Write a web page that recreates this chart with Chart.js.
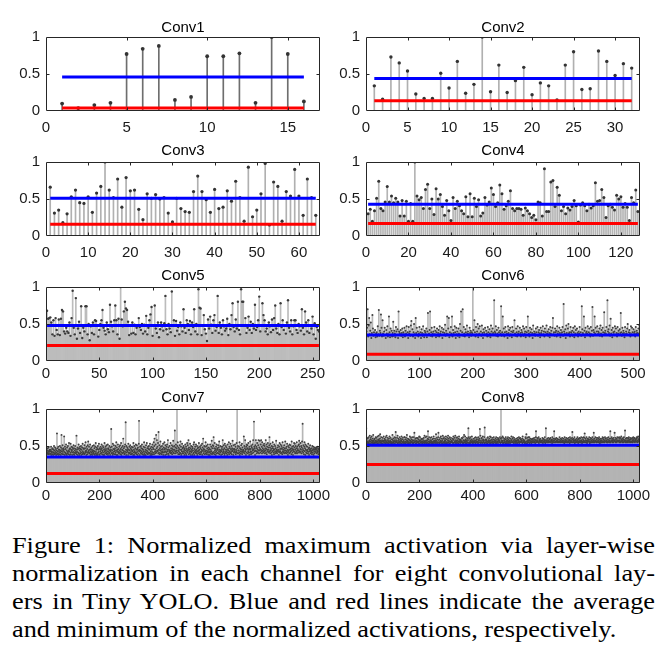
<!DOCTYPE html>
<html><head><meta charset="utf-8">
<script src="https://cdn.jsdelivr.net/npm/chart.js@4.4.1/dist/chart.umd.min.js"></script>
<style>
html,body{margin:0;padding:0;background:#fff}
body{width:668px;height:661px;position:relative;overflow:hidden}
.panel{position:absolute}
#cap{position:absolute;left:12px;top:531px;width:587px;transform:scaleX(1.0954);transform-origin:0 0;
 font-family:"Liberation Serif","Times New Roman",serif;font-size:24px;line-height:28px;color:#000}
#cap div{text-align:justify;text-align-last:justify;white-space:nowrap}
#cap div.last{text-align:left;text-align-last:left}
</style></head><body>
<div id="cap">
<div>Figure 1: Normalized maximum activation via layer-wise</div>
<div>normalization in each channel for eight convolutional lay-</div>
<div>ers in Tiny YOLO. Blue and red lines indicate the average</div>
<div class="last">and minimum of the normalized activations, respectively.</div>
</div>
<script>
// ---------- data ----------
const panelTitles = ['Conv1','Conv2','Conv3','Conv4','Conv5','Conv6','Conv7','Conv8'];
const xTickValues = [
  [0,5,10,15],[0,5,10,15,20,25,30],[0,10,20,30,40,50,60],[0,20,40,60,80,100,120],
  [0,50,100,150,200,250],[0,100,200,300,400,500],[0,200,400,600,800,1000],[0,200,400,600,800,1000]
];
const yTickValues = [0,0.5,1];
const averages = [0.46,0.44,0.51,0.43,0.48,0.35,0.35,0.51];
const minimums = [0.04,0.14,0.16,0.17,0.21,0.09,0.13,0.25];

const conv1 = [.10,.04,.08,.11,.77,.84,.88,.15,.19,.74,.74,.78,.11,1.0,.77,.13];
const conv2 = [.34,.16,.73,.65,.54,.23,.17,.17,.51,.31,.67,.24,.36,1.0,.26,.62,
.25,.41,.59,.22,.38,.34,.15,.62,.80,.29,.30,.81,.67,.48,.64,.58];
const conv3 = [.66,.31,.35,.18,.30,.53,.62,.45,.44,.53,.32,.58,.67,1.0,.62,.52,
.77,.39,.79,.61,.62,.36,.22,.57,.51,.56,.50,.52,.31,.19,.51,.37,
.33,.32,.60,.81,.60,.49,.32,.63,.37,.39,.61,.47,.74,.52,.20,.93,
.26,.35,.57,.98,.15,.73,.67,.20,.60,.54,.90,.54,.28,.77,.52,.28];
const conv4 = [.30,.36,.20,.34,.51,.74,.37,.34,.46,.67,.46,.54,.45,.51,.46,.27,
.48,.27,.47,.20,.44,.20,1.0,.54,.49,.52,.37,.63,.70,.37,.50,.29,
.64,.50,.56,.40,.28,.48,.34,.21,.52,.37,.47,.41,.34,.30,.53,.26,
.57,.26,.51,.40,.49,.27,.31,.52,.42,.46,.65,.56,.40,.45,.69,.57,
.36,.41,.47,.61,.37,.34,.37,.37,.36,.28,.38,.34,.30,.25,.28,.22,
.46,.45,.27,.91,.33,.33,.73,.75,.40,.66,.55,.34,.40,.30,.38,.35,
.40,.48,.41,.19,.42,.45,.41,.34,.43,.38,.41,.72,.47,.48,.63,.52,
.25,.41,.43,.39,.35,.55,.50,.53,.39,.44,.39,.21,.52,.45,.62,.33];
const conv5 = [.68,.57,.58,.59,.52,.36,.55,.34,.58,.42,.36,.56,.35,.57,.69,.67,
.40,.37,.45,.40,.38,.52,.34,.58,.95,.45,.36,.85,.30,.44,.53,.38,
.74,.31,.45,.40,.74,.74,.36,.50,.28,.47,.38,.52,.36,.55,.54,.48,
.33,.42,.50,.55,.69,.45,.41,.36,.52,.43,.39,.76,.53,.47,.40,.55,
.75,.55,.36,.57,.30,1.0,.56,.47,.67,.80,.71,.69,.53,.35,.48,.37,
.52,.38,.49,.36,.45,.48,.58,.46,.42,.50,.37,.49,.40,.61,.36,.45,
.55,.63,.73,.34,.48,.75,.44,.38,.52,.32,.43,.52,.47,.41,.51,.88,
.43,.36,.50,.44,.39,.94,.48,.55,.34,.54,.41,.46,.36,.52,.47,.40,
.70,.45,.38,.55,.50,.42,.54,.36,.52,.46,.70,.40,.50,.36,.97,.72,
.71,.35,.48,.62,.43,.37,.27,.56,.44,.60,.49,.38,.55,.62,.41,.46,
.88,.38,.52,.45,.36,.55,.47,.41,.44,.57,.35,.50,.43,.62,.78,.46,
.40,.56,.44,.80,.42,.36,.97,.80,.80,.48,.58,.38,.45,.60,.42,.53,
.38,.50,.44,.76,.42,.46,.55,.87,.40,.48,.78,.62,.55,.40,.44,.36,
.52,.47,.39,.56,.42,.58,.75,.44,.38,.50,.36,.78,.46,.55,.42,.48,
.37,.52,.82,.45,.40,.55,.36,.47,.55,.55,.42,.38,.50,.47,.41,.70,
.45,.36,.67,.52,.40,.55,.38,.48,.44,.60,.36,.51,.30,.46,.42,.40];
const conv6 = [.40,.45,.70,.33,.48,.58,.36,.41,.52,.31,.38,.62,.44,.34,.39,.35,
.42,.32,.37,.39,.33,.47,.36,.69,.34,.41,.38,.63,.45,.33,.55,.37,
.34,.40,.45,.35,.31,.42,.37,.47,.33,.36,.60,.39,.32,.44,.35,.41,
.33,.38,.53,.34,.41,.37,.32,.46,.40,.35,.43,.31,.67,.40,.38,.36,
.42,.34,.38,.44,.32,.39,.36,.45,.33,.41,.37,.47,.35,.39,.31,.46,
.37,.40,.34,.48,.54,.35,.43,.33,.39,.50,.36,.31,.58,.38,.45,.35,
.40,.33,.37,.46,.35,.39,.31,.43,.38,.34,.47,.36,.32,.41,.39,.36,
.44,.32,.40,.65,.35,.37,.42,.67,.34,.39,.45,.33,.37,.40,.35,.46,
.36,.41,.32,.39,.44,.34,.38,.42,.33,.47,.37,.40,.35,.45,.31,.39,
.43,.35,.38,.49,.34,.41,.37,.60,.36,.44,.58,.32,.39,.35,.46,.37,
.60,.33,.42,.38,.35,.47,.39,.31,.45,.36,.40,.34,.44,.37,.32,.50,
.41,.67,.35,.39,.70,.34,.46,.37,.33,.43,.39,.35,.48,.37,.40,.36,
.32,.45,.38,.41,.34,.39,.37,1.0,.42,.35,.55,.39,.33,.46,.36,.40,
.50,.32,.44,.37,.47,.35,.40,.34,.48,.38,.31,.43,.39,.36,.45,.35,
.41,.37,.33,.46,.39,.34,.43,.37,.32,.48,.40,.36,.44,.38,.35,.82,
.40,.38,.47,.34,.42,.37,.33,.45,.39,.35,.41,.37,.74,.34,.39,.60,
.36,.44,.33,.39,.46,.35,.40,.37,.31,.47,.38,.42,.34,.45,.36,.40,
.32,.46,.39,.41,.35,.55,.37,.34,.44,.39,.33,.47,.37,.40,.35,.45,
.38,.33,.42,.39,.36,.47,.34,.44,.37,.40,.32,.46,.39,.35,.60,.41,
.37,.33,.45,.39,.35,.43,.38,.31,.48,.36,.40,.37,.34,.44,.39,.35,
.46,.34,.39,.42,.37,.32,.45,.38,.41,.35,.47,.36,.40,.33,.44,.39,
.35,.48,.37,.40,.34,.43,.38,.32,.46,.37,.41,.35,.45,.58,.36,.39,
.34,.44,.39,.41,.33,.47,.37,.40,.35,.45,.38,.32,.42,.36,.39,.46,
.34,.77,.40,.37,.43,.31,.48,.38,.35,.44,.50,.37,.39,.33,.46,.39,
.36,.41,.34,.45,.39,.32,.47,.37,.42,.35,.44,.38,.33,.40,.37,.46,
.35,.39,.34,.74,.43,.38,.36,.60,.41,.32,.45,.38,.40,.37,.47,.35,
.39,.44,.37,.33,.46,.36,.41,.73,.34,.42,.39,.60,.37,.45,.35,.40,
.47,.36,.40,.38,.44,.34,.48,.37,.42,.33,.45,.39,.35,.66,.38,.41,
.37,.46,.35,.82,.40,.43,.38,.48,.34,.57,.37,.42,.32,.45,.39,.36,
.40,.47,.35,.44,.38,.33,.46,.37,.41,.35,.43,.38,.65,.39,.34,.45,
.37,.41,.38,.32,.46,.36,.40,.37,.44,.50,.35,.39,.42,.38,.33,.47,
.36,.45,.39,.35,.43,.38,.40,.33,.46,.37,.41,.38,.35,.44,.37,.48];
const conv7 = [.42,.46,.39,.44,.40,.47,.41,.43,.39,.48,.40,.44,.42,.45,.39,.43,
.45,.40,.49,.38,.43,.41,.46,.39,.47,.42,.38,.45,.41,.50,.40,.44,
.39,.48,.42,.40,.46,.38,.44,.41,.67,.39,.47,.43,.40,.49,.38,.45,
.42,.45,.39,.50,.41,.44,.38,.48,.43,.65,.40,.46,.39,.51,.42,.44,
.47,.39,.45,.63,.42,.38,.49,.41,.46,.40,.52,.39,.44,.38,.48,.42,
.40,.50,.42,.44,.39,.54,.43,.46,.38,.47,.41,.53,.39,.45,.42,.49,
.44,.38,.48,.41,.46,.42,.51,.39,.47,.38,.44,.41,.50,.40,.46,.43,
.41,.64,.39,.45,.42,.48,.38,.46,.41,.52,.40,.47,.38,.44,.49,.40,
.46,.42,.50,.38,.45,.41,.48,.39,.53,.43,.40,.47,.41,.46,.39,.51,
.40,.47,.43,.55,.41,.44,.38,.49,.42,.46,.39,.51,.41,.56,.44,.42,
.49,.40,.45,.41,.52,.38,.46,.43,.39,.48,.41,.45,.38,.50,.43,.40,
.44,.41,.51,.39,.47,.43,.38,.49,.40,.54,.42,.45,.38,.48,.40,.46,
.38,.50,.41,.45,.42,.53,.39,.47,.38,.46,.43,.49,.40,.45,.41,.52,
.47,.39,.44,.42,.50,.38,.48,.41,.45,.38,.54,.43,.46,.40,.49,.44,
.41,.51,.39,.46,.43,.40,.52,.38,.47,.42,.45,.40,.50,.41,.44,.38,
.48,.43,.45,.73,.40,.49,.41,.44,.38,.53,.40,.46,.42,.51,.39,.45,
.43,.47,.39,.50,.41,.44,.55,.38,.48,.43,.45,.38,.52,.41,.46,.42,
.40,.49,.44,.41,.51,.39,.46,.43,.54,.38,.48,.41,.45,.40,.50,.44,
.60,.41,.47,.43,.39,.49,.40,.52,.42,.82,.45,.38,.50,.41,.44,.48,
.43,.46,.38,.53,.41,.45,.40,.49,.44,.41,.51,.39,.47,.42,.45,.39,
.49,.40,.44,.43,.48,.38,.54,.41,.45,.38,.50,.43,.41,.47,.40,.52,
.41,.45,.39,.51,.42,.46,.38,.48,.44,.40,.53,.84,.43,.45,.38,.49,
.44,.41,.50,.40,.47,.43,.52,.39,.46,.41,.45,.38,.49,.43,.55,.40,
.38,.48,.42,.45,.38,.51,.41,.44,.54,.40,.47,.43,.39,.49,.41,.46,
.50,.40,.45,.41,.53,.38,.47,.43,.40,.49,.38,.45,.42,.52,.39,.48,
.41,.46,.55,.39,.50,.60,.42,.45,.40,.52,.43,.65,.41,.47,.58,.44,
.49,.43,.54,.40,.69,.45,.41,.51,.39,.47,.44,.56,.40,.49,.42,.45,
.39,.50,.41,.46,.43,.53,.38,.48,.41,.45,.55,.42,.47,.38,.51,.43,
.46,.41,.49,.39,.52,.43,.45,.58,.40,.48,.38,.45,.43,.50,.41,.44,
.42,.54,.40,.47,.44,.41,.51,.39,.46,.43,.49,.57,.41,.45,.40,.50,
.45,.71,.43,.48,.40,.52,.42,.44,.47,1.0,.50,.41,.55,.44,.39,.48,
.43,.46,.39,.51,.41,.45,.56,.40,.49,.38,.45,.43,.53,.40,.47,.42,
.48,.40,.50,.43,.45,.38,.47,.41,.52,.44,.40,.49,.38,.46,.43,.54,
.41,.51,.44,.46,.58,.39,.48,.42,.45,.40,.53,.43,.47,.38,.50,.41,
.45,.43,.49,.38,.47,.44,.40,.52,.41,.55,.38,.46,.43,.49,.41,.44,
.52,.40,.45,.42,.50,.38,.47,.43,.40,.48,.44,.54,.41,.45,.39,.49,
.42,.47,.39,.51,.41,.45,.43,.53,.38,.48,.44,.60,.40,.46,.42,.50,
.45,.39,.49,.43,.55,.40,.44,.41,.50,.39,.47,.43,.52,.41,.45,.38,
.48,.43,.41,.46,.38,.52,.42,.45,.40,.49,.43,.57,.39,.47,.41,.51,
.40,.50,.62,.42,.47,.39,.54,.44,.41,.46,.38,.49,.43,.52,.40,.45,
.47,.41,.45,.51,.40,.48,.43,.56,.39,.45,.42,.50,.41,.44,.38,.49,
.43,.46,.39,.49,.58,.41,.45,.43,.51,.40,.47,.38,.53,.42,.45,.41,
.50,.40,.48,.43,.45,.38,.52,.41,.46,.44,.41,.55,.39,.49,.43,.47,
.41,.53,.40,.45,.42,.50,.39,.47,.44,.57,.43,.46,.38,.51,.41,.45,
.46,.43,.52,.41,.49,.39,.45,.43,.54,.41,1.0,.47,.40,.50,.44,.40,
.44,.49,.41,.55,.38,.47,.43,.46,.40,.51,.42,.45,.53,.39,.48,.43,
.41,.45,.44,.63,.42,.50,.40,.47,.58,.43,.45,.38,.49,.41,.52,.46,
.51,.40,.47,.43,.54,.41,.45,.38,.49,.46,.41,.56,.43,.46,.39,.50,
.42,.48,.40,.52,.44,.46,.58,.41,.45,.83,.49,.43,.47,.38,.51,.44,
.58,.43,.49,.40,.47,.54,.42,.45,.41,.51,.58,.44,.40,.48,.44,.57,
.46,.41,.52,.45,.58,.43,.49,.40,.55,.44,.47,.42,.51,.41,.45,.53,
.43,.50,.40,.47,.44,.58,.41,.46,.52,.39,.49,.43,.45,.54,.42,.48,
.45,.41,.51,.62,.43,.48,.40,.53,.44,.46,.41,.50,.38,.47,.43,.55,
.49,.44,.41,.46,.39,.52,.45,.42,.50,.40,.47,.43,.57,.41,.45,.43,
.40,.48,.44,.51,.42,.45,.38,.49,.43,.54,.41,.46,.43,.52,.40,.47,
.50,.41,.46,.39,.55,.43,.48,.41,.45,.42,.51,.40,.47,.44,.56,.41,
.44,.47,.40,.49,.43,.53,.41,.45,.38,.50,.44,.42,.48,.40,.52,.45,
.41,.51,.46,.43,.47,.39,.56,.44,.49,.41,.46,.38,.50,.43,.45,.54,
.48,.42,.53,.40,.45,.50,.41,.47,.43,.55,.40,.49,.44,.46,.41,.51,
.44,.52,.57,.43,.49,.41,.46,.54,.42,.45,.50,.40,.48,.56,.43,.80,
.46,.41,.51,.44,.39,.49,.55,.43,.47,.38,.52,.45,.41,.50,.44,.40,
.49,.43,.45,.40,.53,.42,.47,.38,.48,.45,.43,.51,.40,.46,.44,.41,
.43,.47,.39,.50,.44,.41,.45,.49,.38,.46,.43,.40,.48,.45,.42,.47,
.45,.42,.48,.40,.46,.44,.41,.49,.43,.47,.39,.45,.42,.46,.40,.44];
const conv8 = [.74,.58,.55,.61,.54,.56,.60,.53,.55,.62,.54,.57,.56,.64,.53,.59,
.56,.61,.54,.58,.63,.55,.57,.54,.60,.56,.65,.53,.57,.55,.59,.54,
.60,.55,.57,.62,.54,.56,.61,.55,.58,.53,.63,.56,.54,.59,.57,.64,
.54,.58,.56,.60,.66,.55,.57,.53,.62,.56,.54,.58,.53,.61,.56,.57,
.56,.63,.54,.57,.60,.55,.59,.53,.57,.62,.55,.56,.64,.54,.58,.55,
.61,.54,.58,.56,.53,.60,.55,.63,.55,.57,.54,.61,.56,.55,.59,.53,
.55,.59,.65,.54,.57,.55,.60,.56,.53,.62,.56,.58,.54,.61,.69,.56,
.58,.55,.56,.61,.54,.64,.53,.57,.60,.55,.59,.54,.56,.62,.55,.58,
.54,.60,.56,.57,.63,.53,.59,.55,.55,.61,.56,.54,.58,.56,.62,.54,
.62,.55,.59,.53,.56,.61,.55,.58,.65,.54,.57,.56,.60,.53,.55,.59,
.55,.58,.54,.63,.55,.57,.54,.61,.56,.59,.55,.56,.62,.54,.58,.53,
.57,.54,.62,.55,.68,.55,.58,.56,.60,.53,.56,.61,.54,.57,.55,.60,
.55,.61,.56,.54,.59,.56,.63,.53,.57,.62,.55,.58,.55,.54,.60,.56,
.59,.56,.53,.60,.55,.58,.55,.61,.54,.56,.64,.54,.57,.55,.62,.55,
.53,.57,.63,.55,.58,.54,.60,.70,.56,.59,.53,.62,.55,.56,.54,.58,
.61,.55,.57,.54,.62,.56,.54,.59,.55,.53,.60,.56,.63,.54,.57,.55,
.56,.60,.54,.58,.56,.66,.54,.57,.61,.55,.59,.54,.55,.62,.68,.58,
.55,.53,.59,.55,.61,.55,.57,.63,.54,.56,.60,.56,.53,.58,.64,.54,
.60,.55,.55,.62,.54,.58,.56,.60,.57,.54,.63,.53,.59,.55,.55,.61,
.54,.58,.64,.55,.57,.60,.53,.56,.62,.56,.54,.59,.55,.61,.55,.57,
.57,.55,.55,.60,.54,.59,.63,.54,.58,.55,.61,.55,.56,.64,.54,.58,
.56,.61,.54,.57,.62,.55,.58,.54,.60,.56,.53,.63,.56,.59,.55,.57,
.59,.54,.58,.56,.56,.61,.55,.60,.55,.54,.62,.57,.54,.58,.65,.55,
.55,.57,.63,.54,.59,.56,.57,.53,.61,.55,.58,.55,.60,.54,.74,.62,
.58,.55,.54,.60,.55,.62,.54,.57,.56,.59,.55,.63,.56,.54,.58,.55,
.54,.60,.56,.56,.58,.55,.61,.55,.53,.62,.57,.55,.59,.56,.61,.54,
.56,.55,.59,.62,.54,.57,.55,.60,.58,.73,.55,.64,.54,.57,.55,.60,
.61,.55,.54,.58,.63,.55,.59,.56,.57,.54,.62,.75,.54,.58,.55,.59,
.55,.59,.57,.54,.56,.61,.53,.62,.55,.58,.55,.57,.60,.56,.54,.63,
.57,.54,.62,.55,.59,.55,.58,.54,.61,.56,.56,.59,.53,.62,.55,.58,
.55,.58,.56,.60,.54,.57,.62,.55,.54,.59,.56,.55,.61,.54,.57,.60,
.59,.56,.57,.55,.62,.55,.54,.60,1.0,.58,.55,.61,.56,.57,.63,.54,
.55,.61,.54,.58,.55,.57,.60,.55,.59,.53,.62,.56,.54,.58,.56,.60,
.54,.57,.62,.56,.59,.54,.56,.61,.55,.57,.54,.60,.55,.55,.58,.63,
.58,.55,.56,.60,.55,.62,.55,.58,.54,.61,.56,.56,.59,.54,.57,.55,
.56,.60,.55,.57,.53,.58,.61,.55,.59,.55,.57,.62,.54,.56,.60,.55,
.61,.56,.59,.55,.58,.56,.57,.60,.54,.63,.55,.58,.55,.59,.56,.55,
.57,.54,.55,.62,.55,.60,.53,.66,.56,.56,.61,.54,.58,.55,.62,.57,
.55,.59,.62,.54,.57,.55,.60,.55,.58,.56,.54,.59,.56,.60,.55,.58,
.60,.55,.55,.58,.61,.55,.56,.59,.54,.57,.62,.70,.58,.55,.56,.61,
.56,.58,.60,.55,.55,.62,.54,.57,.59,.56,.56,.60,.55,.58,.55,.57,
.55,.57,.55,.61,.58,.54,.60,.56,.56,.59,.55,.57,.62,.55,.54,.58,
.74,.56,.58,.56,.55,.60,.55,.58,.55,.61,.57,.55,.56,.59,.56,.60,
.55,.61,.55,.58,.57,.56,.59,.54,.62,.56,.58,.55,.60,.55,.57,.70,
.58,.55,.60,.55,.59,.56,.55,.61,.57,.56,.60,.58,.55,.56,.59,.55,
.56,.59,.56,.62,.55,.58,.55,.57,.60,.55,.56,.59,.56,.61,.57,.55,
.57,.55,.60,.55,.58,.54,.62,.56,.56,.59,.55,.57,.61,.55,.58,.55,
.60,.55,.55,.58,.56,.61,.55,.59,.57,.54,.62,.55,.58,.56,.60,.56,
.55,.58,.61,.69,.55,.59,.55,.57,.60,.56,.58,.62,.54,.57,.55,.59,
.58,.55,.56,.60,.55,.57,.62,.55,.59,.54,.56,.60,.56,.58,.61,.55,
.55,.60,.55,.57,.62,.56,.58,.54,.56,.61,.55,.59,.55,.62,.57,.56,
.61,.67,.55,.55,.58,.60,.55,.57,.62,.55,.54,.58,.56,.60,.56,.59,
.56,.58,.62,.56,.54,.59,.55,.61,.55,.57,.60,.55,.58,.55,.62,.56,
.59,.55,.57,.68,.55,.60,.55,.58,.56,.62,.56,.57,.61,.55,.59,.55,
.56,.61,.56,.58,.60,.55,.57,.62,.55,.59,.54,.56,.60,.57,.55,.58,
.55,.57,.60,.55,.62,.56,.56,.59,.61,.55,.58,.55,.57,.62,.56,.60,
.60,.56,.58,.55,.57,.61,.55,.55,.59,.56,.62,.56,.58,.55,.60,.57,
.55,.70,.55,.60,.56,.58,.62,.56,.57,.60,.55,.59,.55,.61,.58,.56,
.58,.68,.57,.56,.61,.55,.59,.56,.55,.60,.57,.62,.56,.58,.56,.61,
.56,.57,.62,.58,.55,.60,.56,.61,.55,.58,.63,.56,.59,.57,.60,.55,
.57,.61,.55,.59,.62,.56,.58,.56,.71,.57,.55,.60,.58,.55,.61,.56,
.61,.55,.58,.56,.60,.57,.62,.55,.59,.56,.58,.61,.55,.59,.56,.60,
.56,.60,.55,.61,.57,.55,.59,.62,.56,.58,.60,.56,.61,.55,.57,.59,
.59,.56,.60,.56,.62,.58,.55,.61,.57,.63,.56,.59,.56,.60,.58,.62];
const panelValues = [conv1,conv2,conv3,conv4,conv5,conv6,conv7,conv8];

// ---------- styling / layout ----------
const FONT = '"Liberation Sans", Arial, Helvetica, sans-serif';
const plotLefts = [46, 366];
const plotTops = [37, 162, 287, 409];
const PLOT_W = 274, PLOT_H = 74, AX_W = 46, TITLE_H = 30, XAX_H = 32, PAD_R = 18;
const xLabelPad = [8, 8, 4, 4];
const titlePadTop = [12, 10, 10, 10];
const stemColors = ['#6e6e6e','#b0b0b0','#b0b0b0','#b4b4b4','#bcbcbc','#b8b8b8','#b6b6b6','#b4b4b4'];
const dotRadius = [1.9,1.7,1.6,1.5,1.2,1.0,0.95,0.95];
const dotColors = ['#333','#333','#333','#333','#3a3a3a','#404040','#404040','#404040'];

const boxPlugin = {
  id: 'matlabBox',
  afterDatasetsDraw(chart) {
    const {ctx, chartArea: a, scales: {x, y}} = chart;
    ctx.save();
    ctx.strokeStyle = '#262626';
    ctx.lineWidth = 1;
    const L = Math.round(a.left) + 0.5, R = Math.round(a.right) - 0.5;
    const T = Math.round(a.top) + 0.5, B = Math.round(a.bottom) - 0.5;
    ctx.beginPath();
    ctx.rect(L, T, R - L, B - T);
    x.ticks.forEach(t => {
      const px = Math.round(x.getPixelForValue(t.value)) + 0.5;
      if (px < L + 1 || px > R - 1) return;
      ctx.moveTo(px, B); ctx.lineTo(px, B - 3);
      ctx.moveTo(px, T); ctx.lineTo(px, T + 3);
    });
    y.ticks.forEach(t => {
      const py = Math.round(y.getPixelForValue(t.value)) + 0.5;
      if (py < T + 1 || py > B - 1) return;
      ctx.moveTo(L, py); ctx.lineTo(L + 3, py);
      ctx.moveTo(R, py); ctx.lineTo(R - 3, py);
    });
    ctx.stroke();
    ctx.restore();
  }
};

function makePanel(i) {
  const values = panelValues[i];
  const n = values.length;
  const col = i % 2, row = Math.floor(i / 2);
  const wrap = document.createElement('div');
  wrap.className = 'panel';
  const cw = AX_W + PLOT_W + PAD_R, ch = TITLE_H + PLOT_H + XAX_H;
  wrap.style.left = (plotLefts[col] - AX_W) + 'px';
  wrap.style.top = (plotTops[row] - TITLE_H) + 'px';
  wrap.style.width = cw + 'px';
  wrap.style.height = ch + 'px';
  const cv = document.createElement('canvas');
  cv.width = cw; cv.height = ch;
  cv.style.width = cw + 'px'; cv.style.height = ch + 'px';
  wrap.appendChild(cv);
  document.body.appendChild(wrap);

  const pts = values.map((v, k) => ({x: k + 1, y: v}));
  new Chart(cv, {
    type: 'bar',
    data: {
      datasets: [
        {type: 'line', data: [{x: 1, y: averages[i]}, {x: n, y: averages[i]}],
         borderColor: '#0000ff', borderWidth: 3, pointRadius: 0, fill: false, order: 0},
        {type: 'line', data: [{x: 1, y: minimums[i]}, {x: n, y: minimums[i]}],
         borderColor: '#ff0000', borderWidth: 3, pointRadius: 0, fill: false, order: 1},
        {type: 'scatter', data: pts, pointRadius: dotRadius[i], pointBackgroundColor: dotColors[i],
         pointBorderWidth: 0, showLine: false, order: 2},
        {type: 'bar', data: pts, backgroundColor: stemColors[i], barThickness: 1, borderWidth: 0, order: 3}
      ]
    },
    options: {
      responsive: false, animation: false, events: [],
      layout: {padding: {left: 0, right: PAD_R, top: 0, bottom: 0}},
      plugins: {
        legend: {display: false}, tooltip: {enabled: false},
        title: {display: true, text: panelTitles[i], fullSize: false, color: '#000',
                font: {family: FONT, size: 15, weight: 'normal'},
                padding: {top: titlePadTop[row], bottom: TITLE_H - 18 - titlePadTop[row]}}
      },
      scales: {
        x: {type: 'linear', min: 0, max: n + 1, offset: false,
            grid: {display: false, drawTicks: false}, border: {display: false},
            ticks: {color: '#1a1a1a', font: {family: FONT, size: 15}, padding: xLabelPad[row],
                    maxRotation: 0, autoSkip: false, callback: v => String(v)},
            afterBuildTicks: s => { s.ticks = xTickValues[i].map(v => ({value: v})); },
            afterFit: s => { s.height = XAX_H; }},
        y: {type: 'linear', min: 0, max: 1,
            grid: {display: false, drawTicks: false}, border: {display: false},
            ticks: {color: '#1a1a1a', font: {family: FONT, size: 15}, padding: 6, callback: v => String(v)},
            afterBuildTicks: s => { s.ticks = yTickValues.map(v => ({value: v})); },
            afterFit: s => { s.width = AX_W; }}
      }
    },
    plugins: [boxPlugin]
  });
}
for (let i = 0; i < 8; i++) makePanel(i);
</script>
</body></html>
